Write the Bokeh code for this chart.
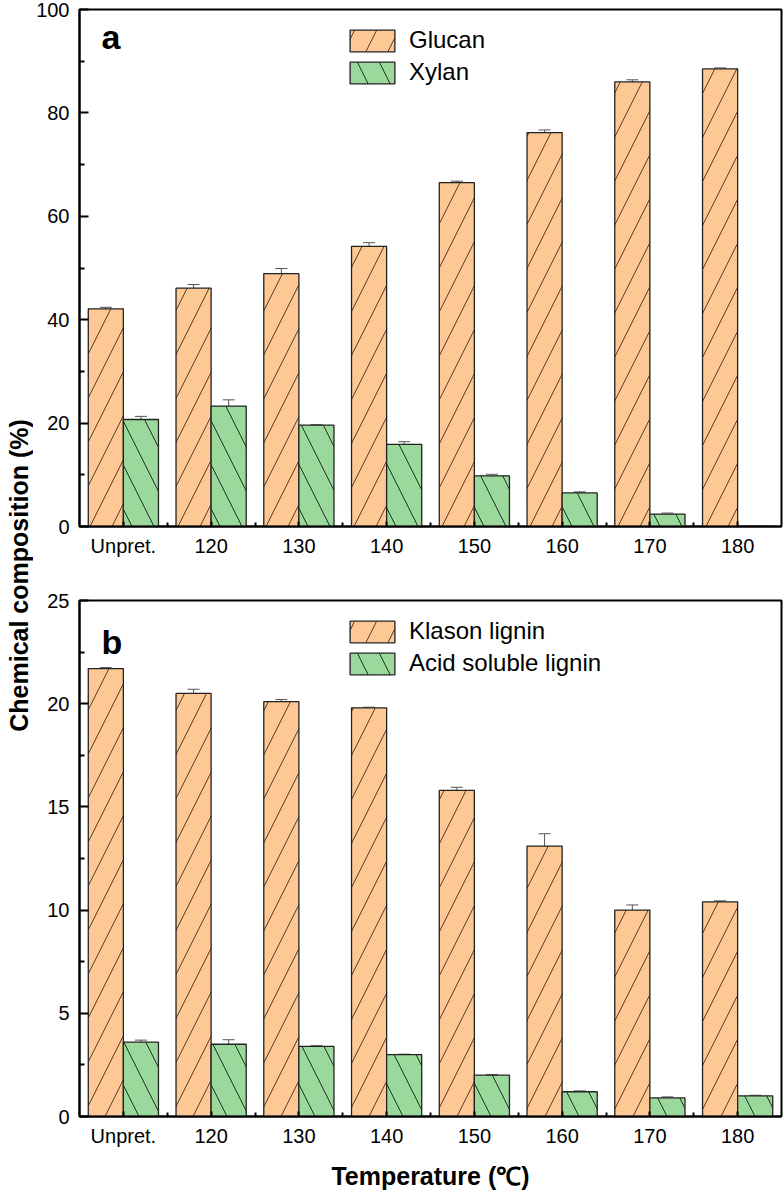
from math import pi
from bokeh.plotting import figure
from bokeh.models import (Range1d, FixedTicker, Whisker, ColumnDataSource, Legend,
                          LegendItem, Label, TeeHead)
from bokeh.layouts import row, column
from bokeh.embed import file_html
from bokeh.resources import INLINE

categories = ["Unpret.", "120", "130", "140", "150", "160", "170", "180"]
glucan = [42.1, 46.1, 48.9, 54.2, 66.5, 76.2, 86.0, 88.5]
glucan_err = [0.3, 0.7, 1.0, 0.7, 0.3, 0.5, 0.4, 0.2]
xylan = [20.7, 23.3, 19.6, 15.9, 9.8, 6.5, 2.4, 0.0]
xylan_err = [0.6, 1.2, 0.1, 0.5, 0.3, 0.2, 0.2, 0.0]
klason = [21.7, 20.5, 20.1, 19.8, 15.8, 13.1, 10.0, 10.4]
klason_err = [0.05, 0.2, 0.1, 0.03, 0.15, 0.6, 0.25, 0.05]
asl = [3.6, 3.5, 3.4, 3.0, 2.0, 1.2, 0.9, 1.0]
asl_err = [0.1, 0.22, 0.03, 0.02, 0.03, 0.04, 0.05, 0.03]

top_ticks = [0, 20, 40, 60, 80, 100]
top_minor = [10, 30, 50, 70, 90]
bot_ticks = [0, 5, 10, 15, 20, 25]
bot_minor = [2.5, 7.5, 12.5, 17.5, 22.5]

ORANGE = "#FDC894"
GREEN = "#9BD89B"
FONT = "Liberation Sans"


def make_panel(v1, e1, v2, e2, names, yt, ym, ymax, letter, letter_y,
               frame_h, mb_top, mb_bottom, xlabel=None):
    p = figure(frame_width=702, frame_height=frame_h, min_border_left=45,
               min_border_right=3, min_border_top=mb_top, min_border_bottom=mb_bottom,
               x_range=Range1d(-0.5, 7.5), y_range=Range1d(0, ymax),
               toolbar_location=None, output_backend="svg")
    n = len(categories)
    xs = list(range(n))
    s1 = ColumnDataSource(dict(x=[i - 0.2 for i in xs], top=v1))
    s2 = ColumnDataSource(dict(x=[i + 0.2 for i in xs], top=v2))
    r1 = p.vbar(x="x", top="top", width=0.4, source=s1, fill_color=ORANGE,
                line_color="#222222", line_width=1.3, hatch_pattern="/",
                hatch_color="#5a3c24", hatch_scale=44, hatch_weight=1)
    r2 = p.vbar(x="x", top="top", width=0.4, source=s2, fill_color=GREEN,
                line_color="#222222", line_width=1.3, hatch_pattern="\\",
                hatch_color="#1e331e", hatch_scale=44, hatch_weight=1)
    for xsh, v, e in ((-0.2, v1, e1), (0.2, v2, e2)):
        bx, up, lo = [], [], []
        for i in xs:
            if e[i] > 0:
                bx.append(i + xsh)
                up.append(v[i] + e[i])
                lo.append(v[i] - e[i])
        es = ColumnDataSource(dict(x=bx, upper=up, lower=lo))
        w = Whisker(base="x", upper="upper", lower="lower", source=es,
                    line_color="#555555", line_width=1,
                    upper_head=TeeHead(size=12, line_color="#555555", line_width=1),
                    lower_head=TeeHead(size=12, line_color="#555555", line_width=1))
        p.add_layout(w)

    p.xgrid.visible = False
    p.ygrid.visible = False
    p.outline_line_color = "black"
    p.outline_line_width = 2

    xa = p.xaxis[0]
    xa.ticker = FixedTicker(ticks=xs, minor_ticks=[i + 0.5 for i in xs[:-1]])
    xa.major_label_overrides = {i: c for i, c in enumerate(categories)}
    ya = p.yaxis[0]
    ya.ticker = FixedTicker(ticks=yt, minor_ticks=ym)
    for ax in (xa, ya):
        ax.axis_line_color = "black"
        ax.axis_line_width = 2
        ax.major_tick_line_width = 2
        ax.minor_tick_line_width = 2
        ax.major_tick_out = 0
        ax.minor_tick_out = 0
        ax.major_label_text_font = FONT
        ax.major_label_text_font_size = "20px"
        ax.major_label_text_color = "black"
    xa.major_tick_in = 5
    xa.minor_tick_in = 4
    ya.major_tick_in = 9
    ya.minor_tick_in = 5
    xa.major_label_standoff = 8
    ya.major_label_standoff = 10
    if xlabel:
        xa.axis_label = xlabel
        xa.axis_label_text_font = FONT
        xa.axis_label_text_font_style = "bold"
        xa.axis_label_text_font_size = "25px"
        xa.axis_label_text_color = "black"
        xa.axis_label_standoff = 12

    legend = Legend(items=[LegendItem(label=names[0], renderers=[r1]),
                           LegendItem(label=names[1], renderers=[r2])],
                    location=(265, frame_h - 77), padding=0, margin=0, spacing=4,
                    glyph_width=56, glyph_height=27, label_standoff=9,
                    label_text_font=FONT, label_text_font_size="24px",
                    label_text_color="black",
                    border_line_color=None, background_fill_alpha=0)
    p.add_layout(legend)

    p.add_layout(Label(x=-0.25, y=letter_y, text=letter, text_font=FONT,
                       text_font_style="bold", text_font_size="34px",
                       text_color="black",
                       text_baseline="alphabetic", text_align="left"))
    return p


p1 = make_panel(glucan, glucan_err, xylan, xylan_err, ["Glucan", "Xylan"],
                top_ticks, top_minor, 100, "a", 94.6, 517, 9, 50)
p2 = make_panel(klason, klason_err, asl, asl_err, ["Klason lignin", "Acid soluble lignin"],
                bot_ticks, bot_minor, 25, "b", 22.97, 516, 24, 74,
                xlabel="Temperature (\u2103)")

lab = figure(width=33, height=1190, x_range=Range1d(0, 1), y_range=Range1d(0, 1190),
             toolbar_location=None, output_backend="svg", min_border=0,
             x_axis_location=None, y_axis_location=None)
lab.outline_line_color = None
lab.xgrid.visible = False
lab.ygrid.visible = False
lab.add_layout(Label(x=0.55, y=615, text="Chemical composition (%)", angle=pi / 2,
                     text_align="center", text_baseline="middle", text_font=FONT,
                     text_font_style="bold", text_font_size="25px",
                     text_color="black"))

layout = row(lab, column(p1, p2))
open("out.html", "w").write(file_html(layout, INLINE))
